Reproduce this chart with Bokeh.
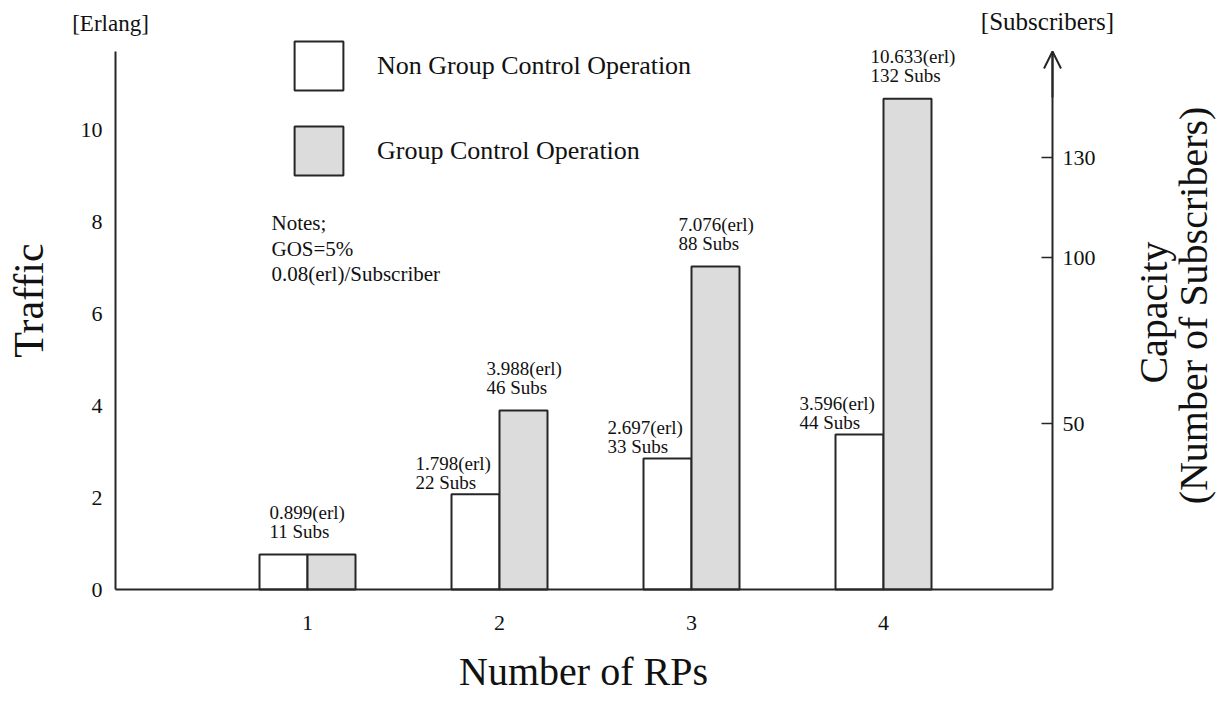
from bokeh.plotting import figure
from bokeh.models import (Range1d, LinearAxis, FixedTicker, ColumnDataSource, LabelSet, Label,
                          Legend, LegendItem, Arrow, OpenHead)
from bokeh.transform import dodge
from bokeh.core.properties import value
from bokeh.embed import file_html
from bokeh.resources import INLINE

# ---------------- data ----------------
rps = [1, 2, 3, 4]
non_group_traffic = [0.76, 2.07, 2.85, 3.37]     # bar heights as drawn [Erlang]
group_traffic = [0.76, 3.89, 7.02, 10.67]        # bar heights as drawn [Erlang]
non_group_erl = ["0.899", "1.798", "2.697", "3.596"]
non_group_subs = [11, 22, 33, 44]
group_erl = ["0.899", "3.988", "7.076", "10.633"]
group_subs = [11, 46, 88, 132]
traffic_ticks = [0, 2, 4, 6, 8, 10]
subs_ticks = [50, 100, 130]
series_names = ["Non Group Control Operation", "Group Control Operation"]
notes = ["Notes;", "GOS=5%", "0.08(erl)/Subscriber"]

# ---------------- layout / styling ----------------
FONT = "Liberation Serif"
TXT = "#111111"
LINE = "#262626"
GRAY = "#dcdcdc"
W, H = 1216, 694
ORIGIN_X, ORIGIN_Y = 115, 589            # screen position of the data origin
PX_RP, PX_ERL, PX_SUB = 192, 46, 3.32     # pixels per unit on each scale
X_RIGHT = (1052 - ORIGIN_X) / PX_RP       # right axis position (data)
Y_TOP = (ORIGIN_Y - 51) / PX_ERL          # top of the axes (data)
SUBS_TOP = Y_TOP * PX_ERL / PX_SUB
BAR_W = 0.25

p = figure(width=W, height=H,
           x_range=Range1d(-ORIGIN_X / PX_RP, (W - ORIGIN_X) / PX_RP),
           y_range=Range1d(-(H - ORIGIN_Y) / PX_ERL, ORIGIN_Y / PX_ERL),
           x_axis_location=None, y_axis_location=None,
           output_backend="svg", toolbar_location=None, min_border=0)
p.outline_line_color = None
p.grid.visible = False
p.background_fill_color = "white"
p.border_fill_color = "white"
p.extra_y_ranges = {"subs": Range1d(-(H - ORIGIN_Y) / PX_SUB, ORIGIN_Y / PX_SUB)}

def make_axis(ticks, standoff, loc, bounds, tick_in=0, **kw):
    ax = LinearAxis(fixed_location=loc, bounds=bounds, **kw)
    ax.ticker = FixedTicker(ticks=ticks)
    ax.major_tick_in = tick_in
    ax.major_tick_out = 0
    ax.minor_tick_in = 0
    ax.minor_tick_out = 0
    ax.major_tick_line_width = 1.5
    ax.major_tick_line_color = LINE
    ax.major_label_standoff = standoff
    ax.major_label_text_font = FONT
    ax.major_label_text_font_size = "22px"
    ax.major_label_text_color = TXT
    ax.axis_line_width = 2
    ax.axis_line_color = LINE
    return ax

p.add_layout(make_axis(traffic_ticks, 13, 0, (0, Y_TOP)), "left")
p.add_layout(make_axis(rps, 26, 0, (0, X_RIGHT)), "below")
p.add_layout(make_axis(subs_ticks, 10, X_RIGHT, (0, SUBS_TOP), tick_in=11,
                       y_range_name="subs"), "right")

# ---------------- bars ----------------
src = ColumnDataSource(dict(
    rp=rps, ng=non_group_traffic, g=group_traffic,
    ng1=[f"{e}(erl)" for e in non_group_erl], ng2=[f"{s} Subs" for s in non_group_subs],
    g1=[f"{e}(erl)" for e in group_erl], g2=[f"{s} Subs" for s in group_subs],
))
r_ng = p.vbar(x=dodge("rp", -BAR_W / 2, range=p.x_range), top="ng", width=BAR_W, source=src,
              fill_color="white", line_color=LINE, line_width=2)
r_g = p.vbar(x=dodge("rp", BAR_W / 2, range=p.x_range), top="g", width=BAR_W, source=src,
             fill_color=GRAY, line_color=LINE, line_width=2)

# ---------------- bar value labels ----------------
first = ColumnDataSource({k: v[:1] for k, v in src.data.items()})
rest = ColumnDataSource({k: v[1:] for k, v in src.data.items()})

def add_labels(source, top, t1, t2, dx, dy1, dy2):
    for field, dy in ((t1, dy1), (t2, dy2)):
        p.add_layout(LabelSet(x="rp", y=top, text=field, source=source,
                              x_offset=dx, y_offset=dy, text_align="left",
                              text_baseline="alphabetic", text_font=value(FONT),
                              text_font_size="19px", text_color=TXT))

add_labels(first, "g", "ng1", "ng2", -38, 36, 17)
add_labels(rest, "ng", "ng1", "ng2", -84, 24, 5)
add_labels(rest, "g", "g1", "g2", -13, 36, 17)

# ---------------- legend ----------------
legend = Legend(items=[LegendItem(label=series_names[0], renderers=[r_ng]),
                       LegendItem(label=series_names[1], renderers=[r_g])],
                location=(288, 513), orientation="vertical",
                glyph_width=61, glyph_height=61, label_height=61,
                label_standoff=28, spacing=24,
                padding=0, margin=0, border_line_alpha=0, background_fill_alpha=0,
                label_text_font=FONT, label_text_font_size="26px", label_text_color=TXT)
p.add_layout(legend)

# ---------------- notes & axis titles ----------------
def label(text, x, y, dx, dy, size, angle=0, align="left"):
    p.add_layout(Label(x=x, y=y, x_offset=dx, y_offset=dy, text=text, angle=angle,
                       angle_units="deg", text_font=FONT, text_font_size=size,
                       text_color=TXT, text_align=align, text_baseline="alphabetic"))

for line, dy in zip(notes, (367, 341, 316)):
    label(line, 0, 0, 156, dy, "21px")

label("Traffic", 0, 0, -87, 289, "42px", angle=90, align="center")
label("Number of RPs", 0, 0, 468, -82, "40px", align="center")
label("[Erlang]", 0, Y_TOP, -5, 28, "23px", align="center")
label("[Subscribers]", X_RIGHT, Y_TOP, -5, 30, "25px", align="center")
label("Capacity", X_RIGHT, 0, 101, 277, "40px", angle=90, align="center")
label("(Number of Subscribers)", X_RIGHT, 0, 141, 284, "40px", angle=90, align="center")

# arrow head on top of the right axis
p.add_layout(Arrow(end=OpenHead(size=17, line_width=2, line_color=LINE),
                   x_start=X_RIGHT, y_start=Y_TOP - 1, x_end=X_RIGHT, y_end=Y_TOP,
                   line_color=LINE, line_width=2))

open("out.html", "w").write(file_html(p, INLINE))
